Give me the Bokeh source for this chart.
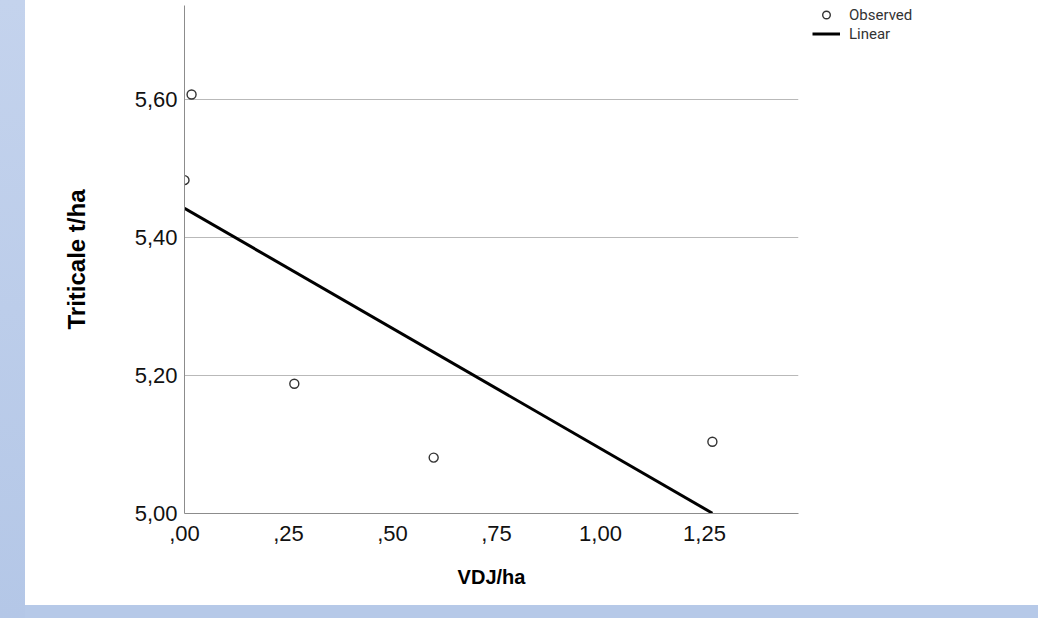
import numpy as np
from bokeh.plotting import figure
from bokeh.models import (FixedTicker, CustomJSTickFormatter, Legend, LegendItem,
                          Range1d, Spacer)
from bokeh.layouts import row, column
from bokeh.embed import file_html
from bokeh.resources import INLINE

# ---- data ----
vdj_ha = [0.0, 0.017, 0.264, 0.599, 1.269]
triticale = [5.483, 5.607, 5.188, 5.081, 5.104]
x_ticks = [0.0, 0.25, 0.5, 0.75, 1.0, 1.25]
x_tick_labels = [",00", ",25", ",50", ",75", "1,00", "1,25"]
y_ticks = [5.0, 5.2, 5.4, 5.6]
y_tick_labels = ["5,00", "5,20", "5,40", "5,60"]
x_title = "VDJ/ha"
y_title = "Triticale t/ha"
legend_labels = ["Observed", "Linear"]

# linear fit through observed points
slope, intercept = np.polyfit(vdj_ha, triticale, 1)
fit_x = [min(vdj_ha), max(vdj_ha)]
fit_y = [intercept + slope * v for v in fit_x]

FONT = "Liberation Sans"
LINE_STYLE = dict(line_color="black", line_width=3)
PT_STYLE = dict(marker="circle", size=9, fill_color=None,
                line_color="#333333", line_width=1.4)

p = figure(width=787, height=605,
           x_range=Range1d(0, 1.476), y_range=Range1d(5.0, 5.736),
           output_backend="svg", toolbar_location=None,
           min_border_left=159, min_border_right=14,
           min_border_top=5, min_border_bottom=92)
p.outline_line_color = None
p.background_fill_color = "white"
p.border_fill_color = "white"

# grid
p.xgrid.visible = False
p.ygrid.ticker = FixedTicker(ticks=[t for t in y_ticks if t > y_ticks[0]])
p.ygrid.grid_line_color = "#b9b9b9"
p.ygrid.grid_line_width = 1

# axes
for ax, ticks, labels in ((p.xaxis[0], x_ticks, x_tick_labels),
                          (p.yaxis[0], y_ticks, y_tick_labels)):
    ax.ticker = FixedTicker(ticks=ticks)
    ax.formatter = CustomJSTickFormatter(
        args=dict(vals=ticks, labs=labels),
        code="const i = vals.findIndex(v => Math.abs(v - tick) < 1e-9); return i >= 0 ? labs[i] : '';")
    ax.axis_line_color = "#8c8c8c"
    ax.axis_line_width = 1
    ax.major_tick_line_color = None
    ax.minor_tick_line_color = None
    ax.major_tick_out = 0
    ax.major_tick_in = 0
    ax.major_label_text_font = FONT
    ax.major_label_text_font_size = "22px"
    ax.major_label_text_color = "#111111"
    ax.axis_label_text_font = FONT
    ax.axis_label_text_font_style = "bold"
    ax.axis_label_text_color = "#000000"

p.xaxis.axis_label = x_title
p.xaxis.axis_label_text_font_size = "20px"
p.xaxis.major_label_standoff = 12
p.xaxis.axis_label_standoff = 22

p.yaxis.axis_label = y_title
p.yaxis.axis_label_text_font_size = "24px"
p.yaxis.major_label_standoff = 7
p.yaxis.axis_label_standoff = 42

# glyphs
p.line(fit_x, fit_y, **LINE_STYLE)
p.scatter(vdj_ha, triticale, **PT_STYLE)

# ---- legend panel (separate canvas to the right of the plot area) ----
# same series drawn again here only so the legend has glyph renderers;
# they fall outside this canvas's ranges and so stay invisible.
lg = figure(width=226, height=605, x_axis_type=None, y_axis_type=None,
            x_range=Range1d(0, 1), y_range=Range1d(0, 1),
            output_backend="svg", toolbar_location=None,
            min_border_left=0, min_border_right=0,
            min_border_top=0, min_border_bottom=0)
lg.outline_line_color = None
lg.xgrid.visible = False
lg.ygrid.visible = False
lg_pts = lg.scatter(vdj_ha, triticale, **PT_STYLE)
lg_line = lg.line(fit_x, fit_y, **LINE_STYLE)

legend = Legend(items=[LegendItem(label=legend_labels[0], renderers=[lg_pts]),
                       LegendItem(label=legend_labels[1], renderers=[lg_line])],
                location="top_left", orientation="vertical",
                padding=4, margin=0, spacing=0,
                glyph_width=28, glyph_height=19, label_height=19,
                label_standoff=9,
                label_text_font="Roboto", label_text_font_size="15px",
                label_text_color="#333333",
                border_line_color=None, background_fill_alpha=0)
lg.add_layout(legend)

left_band = Spacer(width=25, height=618,
                   styles={"background": "linear-gradient(#c4d3ed, #b4c7e7)"})
bottom_band = Spacer(width=1013, height=13, styles={"background-color": "#b6c9e8"})
layout = row(left_band, column(row(p, lg), bottom_band))

open("out.html", "w").write(file_html(layout, INLINE))
